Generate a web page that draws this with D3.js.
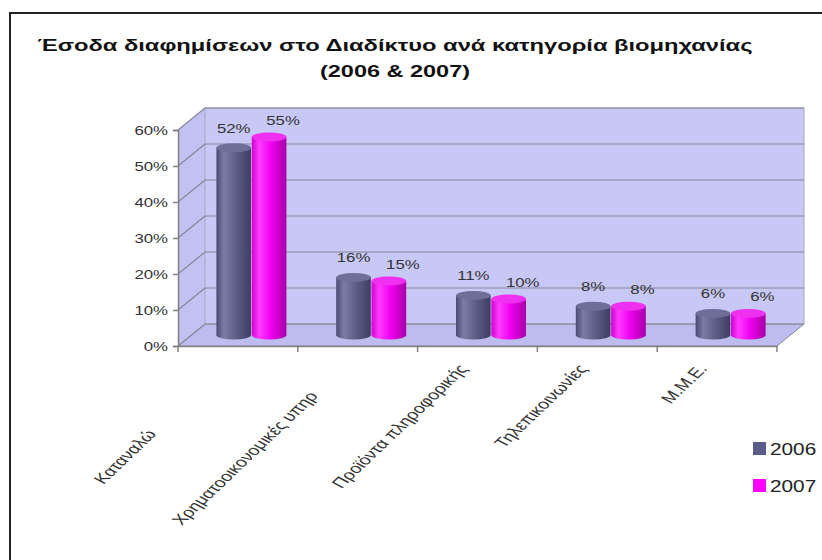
<!DOCTYPE html>
<html><head><meta charset="utf-8">
<script src="https://cdn.jsdelivr.net/npm/d3@7"></script>
<style>body{margin:0;background:#fff;} text{font-family:"Liberation Sans",Arial,sans-serif;}</style>
</head><body>
<svg id="c" width="822" height="560"></svg>
<script>
const categories = ["Καταναλώ", "Χρηματοοικονομικές υπηρ", "Προϊόντα πληροφορικής", "Τηλεπικοινωνίες", "Μ.Μ.Ε."];
const series = ["2006", "2007"];
const values2006 = [0.52, 0.16, 0.11, 0.08, 0.06];
const values2007 = [0.55, 0.15, 0.10, 0.08, 0.06];
const yTicks = [0, 0.1, 0.2, 0.3, 0.4, 0.5, 0.6];
const titleLines = ["Έσοδα διαφημίσεων στο Διαδίκτυο ανά  κατηγορία βιομηχανίας", "(2006 & 2007)"];

(function () {
const svg = d3.select("#c");
const SX = 1.4; // horizontal text stretch of the original picture
const pL = 178, pR = 777, pB = 346, pT = 130;
const DX = 27, DY = -22;

const x = d3.scaleBand().domain(categories).range([pL, pR]).paddingInner(0).paddingOuter(0);
const y = d3.scaleLinear().domain([0, 0.6]).range([pB, pT]);
const sub = d3.scaleBand().domain(series).range([0, 70]).paddingInner(0.02);

// frame
svg.append("line").attr("x1", 9).attr("x2", 822).attr("y1", 13).attr("y2", 13).attr("stroke", "#222").attr("stroke-width", 2);
svg.append("line").attr("x1", 10).attr("x2", 10).attr("y1", 13).attr("y2", 560).attr("stroke", "#222").attr("stroke-width", 2);

// title
titleLines.forEach((t, i) => {
  svg.append("text").attr("x", 395).attr("y", 51 + i * 26).attr("text-anchor", "middle")
    .attr("font-weight", "bold").attr("font-size", 16).attr("fill", "#111")
    .attr("textLength", i === 0 ? 715 : 150).attr("lengthAdjust", "spacingAndGlyphs").text(t);
});

// walls
const wallFill = "#c8c8f6", gridCol = "#86869a";
svg.append("path").attr("d", `M${pL},${pB}L${pR},${pB}L${pR + DX},${pB + DY}L${pL + DX},${pB + DY}Z`)
  .attr("fill", "#bcbcee").attr("stroke", gridCol).attr("stroke-width", 1);
svg.append("path").attr("d", `M${pL},${pB}L${pL},${pT}L${pL + DX},${pT + DY}L${pL + DX},${pB + DY}Z`)
  .attr("fill", "#c2c2f2").attr("stroke", "none");
svg.append("rect").attr("x", pL + DX).attr("y", pT + DY).attr("width", pR - pL).attr("height", pB - pT)
  .attr("fill", wallFill).attr("stroke", "#a8a8c0").attr("stroke-width", 1);

// gridlines
yTicks.forEach(v => {
  svg.append("line").attr("x1", pL + DX).attr("x2", pR + DX).attr("y1", y(v) + DY).attr("y2", y(v) + DY)
    .attr("stroke", gridCol).attr("stroke-width", 1.2);
  svg.append("line").attr("x1", pL).attr("x2", pL + DX).attr("y1", y(v)).attr("y2", y(v) + DY)
    .attr("stroke", gridCol).attr("stroke-width", 1.2);
});

// axes
const yAxis = svg.append("g").attr("transform", `translate(${pL},0)`)
  .call(d3.axisLeft(y).tickValues(yTicks).tickFormat(d3.format(".0%")).tickSize(5).tickPadding(0));
yAxis.select(".domain").attr("stroke", "#808080").attr("stroke-width", 1.5);
yAxis.selectAll(".tick line").attr("stroke", "#808080").attr("stroke-width", 1.5);
yAxis.selectAll(".tick text").attr("x", -10 / SX).attr("dy", "0.35em").attr("font-size", 12)
  .attr("fill", "#333").attr("transform", `scale(${SX},1)`).attr("font-family", "Liberation Sans, Arial");

const xAxis = svg.append("g").attr("transform", `translate(0,${pB})`)
  .call(d3.axisBottom(x).tickSize(0).tickFormat(""));
xAxis.select(".domain").attr("stroke", "#808080").attr("stroke-width", 1.5);
const bounds = categories.map(c => x(c)).concat([x(categories[categories.length - 1]) + x.bandwidth()]);
svg.selectAll(".xtick").data(bounds).join("line").attr("class", "xtick")
  .attr("x1", d => d).attr("x2", d => d).attr("y1", pB).attr("y2", pB + 6)
  .attr("stroke", "#808080").attr("stroke-width", 1.5);

// gradients
const defs = svg.append("defs");
const grads = {
  "2006": [["0%", "#4a4a72"], ["22%", "#7c7ca6"], ["55%", "#5e5e8a"], ["100%", "#3e3e62"]],
  "2007": [["0%", "#d400d4"], ["22%", "#ff3cff"], ["55%", "#f000f0"], ["100%", "#a600a6"]]
};
Object.entries(grads).forEach(([k, stops]) => {
  const g = defs.append("linearGradient").attr("id", "g" + k).attr("x1", "0").attr("x2", "1").attr("y1", "0").attr("y2", "0");
  stops.forEach(s => g.append("stop").attr("offset", s[0]).attr("stop-color", s[1]));
});
const topCol = { "2006": "#6e6e98", "2007": "#f030f0" };

// bars (cylinders at mid depth)
const rows = [];
categories.forEach((c, i) => {
  rows.push({ c, s: "2006", v: values2006[i] });
  rows.push({ c, s: "2007", v: values2007[i] });
});
const groupW = sub.range()[1];
const ry = 4.5;
function cyl(d) {
  const x0 = x(d.c) + x.bandwidth() / 2 - groupW / 2 + DX / 2 + sub(d.s);
  const w = sub.bandwidth(), rx = w / 2;
  const yb = y(0) + DY / 2, yt = y(d.v) + DY / 2;
  return { x0, w, rx, yb, yt, cx: x0 + rx };
}
const bars = svg.append("g");
rows.forEach(d => {
  const g = cyl(d);
  bars.append("path")
    .attr("d", `M${g.x0},${g.yt}L${g.x0},${g.yb}A${g.rx},${ry} 0 0 0 ${g.x0 + g.w},${g.yb}L${g.x0 + g.w},${g.yt}Z`)
    .attr("fill", `url(#g${d.s})`);
  bars.append("ellipse").attr("cx", g.cx).attr("cy", g.yt).attr("rx", g.rx).attr("ry", ry)
    .attr("fill", topCol[d.s]);
});

// data labels
rows.forEach(d => {
  const g = cyl(d);
  const dx = d.s === "2007" ? 14 : 0;
  const dy = d.s === "2007" ? 12 : 15;
  svg.append("g").attr("transform", `translate(${g.cx + dx},${g.yt - dy}) scale(${SX},1)`)
    .append("text").attr("text-anchor", "middle").attr("font-size", 12).attr("fill", "#333")
    .text(d3.format(".0%")(d.v));
});

// category labels
const shift = [96, 40, 0, 0, 0];
const ang = 53;
categories.forEach((c, i) => {
  const cx = x(c) + x.bandwidth() / 2 - 9;
  const sx = -shift[i] * 0.75, sy = shift[i] * 0.68;
  svg.append("g").attr("transform", `translate(${cx + sx},${369 + sy}) scale(${SX},1) rotate(${-ang})`)
    .append("text").attr("text-anchor", "end").attr("font-size", 14).attr("fill", "#333").text(c);
});

// legend
const colors = { "2006": "#5c5c8a", "2007": "#ff00ff" };
series.forEach((s, i) => {
  svg.append("rect").attr("x", 753).attr("y", 442 + i * 37).attr("width", 13).attr("height", 13).attr("fill", colors[s]);
  svg.append("g").attr("transform", `translate(770,${455 + i * 37}) scale(1.3,1)`)
    .append("text").attr("font-size", 16).attr("fill", "#222").text(s);
});
})();
</script>
</body></html>
